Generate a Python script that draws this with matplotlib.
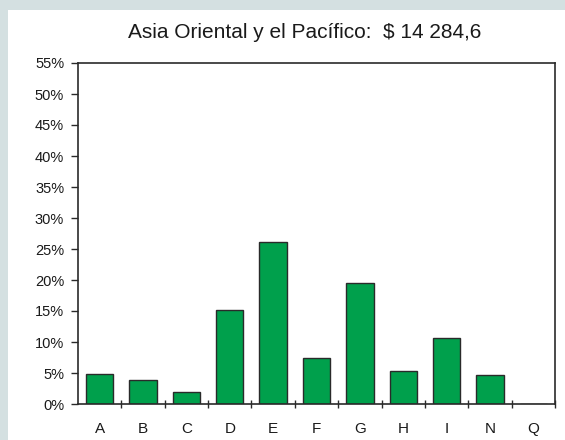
import matplotlib
matplotlib.use("Agg")
import matplotlib.pyplot as plt
from matplotlib.patches import Rectangle
from matplotlib.ticker import FixedLocator

plt.rcParams['font.family'] = ['Liberation Sans', 'DejaVu Sans']

title = "Asia Oriental y el Pacífico:  $ 14 284,6"
categories = ["A", "B", "C", "D", "E", "F", "G", "H", "I", "N", "Q"]
shares = [4.8, 3.9, 1.9, 15.2, 26.1, 7.4, 19.5, 5.3, 10.7, 4.7, 0.0]
yticks = list(range(0, 60, 5))
ytick_labels = [f"{v}%" for v in yticks]

W, H = 565, 440
fig = plt.figure(figsize=(W / 100, H / 100), dpi=100)
fig.patch.set_facecolor("#d4e0e1")
# white panel inside the tinted frame
fig.add_artist(Rectangle((8 / W, 0), 1 - 8 / W, 1 - 10 / H,
                         transform=fig.transFigure, facecolor="white",
                         edgecolor="none", zorder=0))

ax = fig.add_axes([78 / W, 36 / H, (555 - 78) / W, (404 - 63) / H])
ax.set_facecolor("white")

x = list(range(len(categories)))
ax.bar(x, shares, width=0.63, color="#00a04c", edgecolor="#2a2a2a",
       linewidth=1.0, zorder=2)

ax.set_xlim(-0.5, len(categories) - 0.5)
ax.set_ylim(0, 55)
ax.set_yticks(yticks)
ax.set_yticklabels(ytick_labels)

ax.set_xticks(x)
ax.set_xticklabels(categories)
ax.tick_params(axis="x", which="major", length=0, pad=13, labelsize=11,
               colors="#1a1a1a")
ax.xaxis.set_minor_locator(FixedLocator([i + 0.5 for i in range(len(categories))]))
ax.tick_params(axis="x", which="minor", direction="inout", length=6,
               width=1.0, color="#2a2a2a")
ax.tick_params(axis="y", direction="out", length=5, width=1.0,
               labelsize=10.5, pad=5, colors="#2a2a2a", labelcolor="#1a1a1a")

for side in ["left", "right", "top", "bottom"]:
    ax.spines[side].set_color("#2a2a2a")
    ax.spines[side].set_linewidth(1.2)

fig.text(305 / W, 1 - 33 / H, title, ha="center", va="center",
         fontsize=15, color="#1a1a1a")

fig.savefig("out.png", dpi=100, facecolor=fig.get_facecolor())
